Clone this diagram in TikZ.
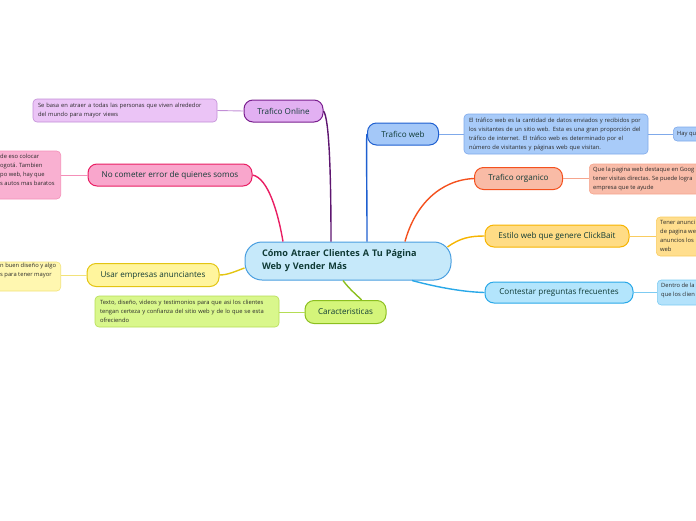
\documentclass[tikz,border=0pt]{standalone}
\usetikzlibrary{calc}
\usepackage{fontspec}
\setmainfont{Open Sans}
\definecolor{titlecol}{HTML}{0F3A35}
\definecolor{desccol}{HTML}{2A2A2A}
\definecolor{cenfill}{HTML}{C6E9FA}\definecolor{cendraw}{HTML}{4A9FE0}
\definecolor{purA}{HTML}{E2B0F2}\definecolor{purB}{HTML}{7A1F8F}\definecolor{purC}{HTML}{EBC4F6}\definecolor{purD}{HTML}{C28ED6}\definecolor{purL}{HTML}{5E1670}
\definecolor{pinA}{HTML}{F9A6CC}\definecolor{pinB}{HTML}{E91E63}\definecolor{pinC}{HTML}{F9B0D1}\definecolor{pinD}{HTML}{F48FB8}
\definecolor{yelA}{HTML}{FFF59D}\definecolor{yelB}{HTML}{E3C512}\definecolor{yelC}{HTML}{FFF7B0}\definecolor{yelD}{HTML}{F2E27A}
\definecolor{grnA}{HTML}{D4F57A}\definecolor{grnB}{HTML}{8CBF1F}\definecolor{grnC}{HTML}{D9F78C}\definecolor{grnD}{HTML}{B5DD55}
\definecolor{bluA}{HTML}{A4C8F8}\definecolor{bluB}{HTML}{1E5FD0}\definecolor{bluC}{HTML}{A8CBF9}\definecolor{bluD}{HTML}{7FA9EA}
\definecolor{orgA}{HTML}{F9BBA6}\definecolor{orgB}{HTML}{F4511E}\definecolor{orgC}{HTML}{F9BCA9}\definecolor{orgD}{HTML}{F6A58D}
\definecolor{ambA}{HTML}{FFDC85}\definecolor{ambB}{HTML}{F6B400}\definecolor{ambC}{HTML}{FFDE8E}\definecolor{ambD}{HTML}{F9CC60}
\definecolor{cyaA}{HTML}{B3E5FC}\definecolor{cyaB}{HTML}{29A8E8}\definecolor{cyaC}{HTML}{B3E2FB}\definecolor{cyaD}{HTML}{7DCBF2}
\begin{document}
\begin{tikzpicture}[x=1pt,y=-1pt,
  titlebox/.style={draw, line width=1pt, rounded corners=9pt, font=\fontsize{8.1}{10}\selectfont, text=titlecol, inner sep=0pt, align=center},
  descbox/.style={draw, line width=0.6pt, rounded corners=4pt, font=\fontsize{5.8}{9}\selectfont, text=desccol, inner xsep=5pt, inner ysep=2pt, align=left},
  desctext/.style={font=\fontsize{5.8}{9}\selectfont, text=desccol, inner sep=0pt, align=left},
  mainlink/.style={line width=1.4pt},
  sublink/.style={line width=0.9pt}]
\useasboundingbox (0,0) rectangle (696,520);
\clip (0,0) rectangle (696,520);

% central
\node[draw=cendraw, fill=cenfill, line width=1pt, rounded corners=17pt, minimum width=206pt, minimum height=38pt, inner sep=0pt,
      text width=172pt, align=left, text=titlecol, font=\fontsize{9.1}{13}\selectfont\bfseries] (central) at (348,261)
  {Cómo Atraer Clientes A Tu Página\\Web y Vender Más};

% Trafico Online
\node[titlebox, draw=purB, fill=purA, minimum width=79pt, minimum height=22pt] (tonline) at (283.5,111) {Trafico Online};
\node[descbox, draw=purD, fill=purC, text width=174pt, minimum height=23pt] (tonlined) at (125,110.5)
  {Se basa en atraer a todas las personas que viven alrededor\\del mundo para mayor views};

% No cometer error
\node[titlebox, draw=pinB, fill=pinA, minimum width=164pt, minimum height=22pt] (nocom) at (170,175) {No cometer error de quienes somos};
\node[descbox, draw=pinD, fill=pinC, minimum width=161pt, minimum height=48pt, anchor=east] (nocomd) at (61,175) {};
\node[desctext, anchor=north west] (nocomt) at (0,153.5) {de eso colocar\\ogotá. Tambien\\po web, hay que\\s autos mas baratos};

% Usar empresas anunciantes
\node[titlebox, draw=yelB, fill=yelA, minimum width=132pt, minimum height=23pt] (usar) at (153,275) {Usar empresas anunciantes};
\node[descbox, draw=yelD, fill=yelC, minimum width=161pt, minimum height=29pt, anchor=east] (usard) at (61,276.5) {};
\node[desctext, anchor=north west] (usart) at (0,262.5) {n buen diseño y algo\\s para tener mayor};

% Caracteristicas
\node[titlebox, draw=grnB, fill=grnA, minimum width=81pt, minimum height=23pt] (carac) at (345.5,312) {Caracteristicas};
\node[descbox, draw=grnD, fill=grnC, text width=174pt, minimum height=31pt] (caracd) at (187,311.5)
  {Texto, diseño, videos y testimonios para que asi los clientes\\tengan certeza y confianza del sitio web y de lo que se esta\\ofreciendo};

% Trafico web
\node[titlebox, draw=bluB, fill=bluA, minimum width=71pt, minimum height=22pt] (tweb) at (403,134) {Trafico web};
\node[descbox, draw=bluD, fill=bluC, text width=174pt, minimum height=40pt] (twebd) at (556,134)
  {El tráfico web es la cantidad de datos enviados y recibidos por\\los visitantes de un sitio web. Esta es una gran proporción del\\tráfico de internet. El tráfico web es determinado por el\\número de visitantes y páginas web que visitan.};
\node[descbox, draw=bluD, fill=bluC, minimum width=94pt, minimum height=14pt, anchor=west] (hay) at (673,134) {};
\node[desctext, anchor=west] (hayt) at (677,134) {Hay qu};

% Trafico organico
\node[titlebox, draw=orgB, fill=orgA, minimum width=88pt, minimum height=22pt] (torg) at (518.5,178.5) {Trafico organico};
\node[descbox, draw=orgD, fill=orgC, minimum width=160pt, minimum height=30pt, anchor=west] (torgd) at (589,179) {};
\node[desctext, anchor=north west] (torgt) at (593,166.5) {Que la pagina web destaque en Goog\\tener visitas directas. Se puede logra\\empresa que te ayude};

% Estilo web
\node[titlebox, draw=ambB, fill=ambA, minimum width=144pt, minimum height=22pt] (estilo) at (557,236) {Estilo web que genere ClickBait};
\node[descbox, draw=ambD, fill=ambC, minimum width=120pt, minimum height=39pt, anchor=west] (estilod) at (656,236.5) {};
\node[desctext, anchor=north west] (estilot) at (660,220.5) {Tener anunci\\de pagina we\\anuncios los\\web};

% Contestar
\node[titlebox, draw=cyaB, fill=cyaA, minimum width=148pt, minimum height=21pt] (contestar) at (559,292.5) {Contestar preguntas frecuentes};
\node[descbox, draw=cyaD, fill=cyaC, minimum width=120pt, minimum height=25pt, anchor=west] (contestard) at (657,292.5) {};
\node[desctext, anchor=north west] (contestart) at (661,283) {Dentro de la\\que los clien};

% main connectors
\draw[mainlink, purL] ([xshift=-17pt]central.north) .. controls (331,170) and (329,118) .. (tonline.east);
\draw[mainlink, pinB] ([xshift=-65pt]central.north) .. controls (278,212) and (268,178) .. (nocom.east);
\draw[mainlink, yelB] ($(central.west)+(0,7)$) .. controls (236,271) and (228,275) .. (usar.east);
\draw[mainlink, grnB] ($(central.south)+(-5,0)$) .. controls (350,290) and (358,296) .. ($(carac.north)+(16,0)$);
\draw[mainlink, bluB] ([xshift=19pt]central.north) .. controls (367,180) and (366,140) .. (tweb.west);
\draw[mainlink, orgB] ([xshift=57pt]central.north) .. controls (415,205) and (440,180) .. (torg.west);
\draw[mainlink, ambB] ($(central.east)+(-4,-14)$) .. controls (460,238) and (470,236) .. (estilo.west);
\draw[mainlink, cyaB] ($(central.south)+(64,0)$) .. controls (440,288) and (465,292) .. (contestar.west);

% sub connectors
\draw[sublink, purD] (tonline.west) -- (tonlined.east);
\draw[sublink, pinD] (nocom.west) -- (nocomd.east);
\draw[sublink, yelD] (usar.west) -- (usard.east |- usar.west);
\draw[sublink, grnD] (carac.west) -- (caracd.east |- carac.west);
\draw[sublink, bluD] (tweb.east) -- (twebd.west);
\draw[sublink, bluD] (twebd.east) -- (hay.west);
\draw[sublink, orgD] (torg.east) -- (torgd.west |- torg.east);
\draw[sublink, ambD] (estilo.east) -- (estilod.west |- estilo.east);
\draw[sublink, cyaD] (contestar.east) -- (contestard.west);
\end{tikzpicture}
\end{document}
